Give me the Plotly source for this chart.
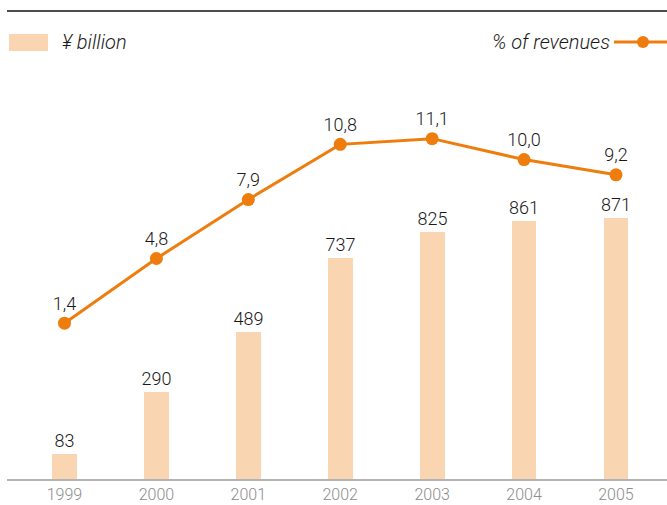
import plotly.graph_objects as go

years = ["1999", "2000", "2001", "2002", "2003", "2004", "2005"]
billion_yen = [83, 290, 489, 737, 825, 861, 871]
pct_revenues = [1.4, 4.8, 7.9, 10.8, 11.1, 10.0, 9.2]

BAR_COLOR = "#f9d6b1"
LINE_COLOR = "#ee7d0e"
FONT = "Roboto"

xs = list(range(len(years)))
bar_text = [str(v) for v in billion_yen]
pct_text = [f"{v:.1f}".replace(".", ",") for v in pct_revenues]

fig = go.Figure()
fig.add_trace(go.Bar(
    x=xs, y=billion_yen, width=0.27, marker=dict(color=BAR_COLOR, line=dict(width=0)),
    text=bar_text, textposition="outside", cliponaxis=False, constraintext="none",
    textfont=dict(family=FONT, size=18, color="#1a1a1a", weight=300),
    showlegend=False, hoverinfo="skip",
))
fig.add_trace(go.Scatter(
    x=xs, y=pct_revenues, yaxis="y2", mode="lines+markers+text",
    line=dict(color=LINE_COLOR, width=3), marker=dict(color=LINE_COLOR, size=13),
    text=pct_text, textposition="top center", cliponaxis=False,
    textfont=dict(family=FONT, size=18, color="#1a1a1a", weight=300),
    showlegend=False, hoverinfo="skip",
))

fig.update_layout(
    width=667, height=505,
    margin=dict(l=7, r=0, t=11, b=26),
    paper_bgcolor="white", plot_bgcolor="white",
    font=dict(family=FONT),
    bargap=0,
    xaxis=dict(
        range=[-0.6255, 6.555], tickmode="array", tickvals=xs, ticktext=years,
        showgrid=False, zeroline=False, showline=True, linecolor="#b3b3b3", linewidth=2,
        ticks="", tickfont=dict(family=FONT, size=16, color="#8c8c8c", weight=300),
        fixedrange=True,
    ),
    yaxis=dict(range=[0, 1560], visible=False, showgrid=False, zeroline=False),
    yaxis2=dict(range=[-6.79, 17.81], overlaying="y", visible=False, showgrid=False, zeroline=False),
    shapes=[
        dict(type="line", xref="paper", yref="paper", x0=0, x1=1, y0=1, y1=1,
             line=dict(color="#111111", width=1.5)),
        dict(type="rect", xref="paper", yref="paper",
             x0=(9 - 7) / 660, x1=(48 - 7) / 660, y0=(479 - 51) / 468, y1=(479 - 34) / 468,
             fillcolor=BAR_COLOR, line=dict(width=0)),
        dict(type="line", xref="paper", yref="paper",
             x0=(614 - 7) / 660, x1=1, y0=(479 - 42) / 468, y1=(479 - 42) / 468,
             line=dict(color=LINE_COLOR, width=3)),
        dict(type="circle", xref="paper", yref="paper",
             x0=(637 - 7) / 660, x1=(649 - 7) / 660, y0=(479 - 48) / 468, y1=(479 - 36) / 468,
             fillcolor=LINE_COLOR, line=dict(width=0)),
    ],
    annotations=[
        dict(text="<i>¥ billion</i>", xref="paper", yref="paper",
             x=(60 - 7) / 660, y=(479 - 42) / 468, xanchor="left", yanchor="middle",
             showarrow=False, font=dict(family=FONT, size=20, color="#1a1a1a", weight=300)),
        dict(text="<i>% of revenues</i>", xref="paper", yref="paper",
             x=(612 - 7) / 660, y=(479 - 42) / 468, xanchor="right", yanchor="middle",
             showarrow=False, font=dict(family=FONT, size=20, color="#1a1a1a", weight=300)),
    ],
)

fig.write_html("out.html", config={"displayModeBar": False},
               post_script="document.body.style.margin='0';")
